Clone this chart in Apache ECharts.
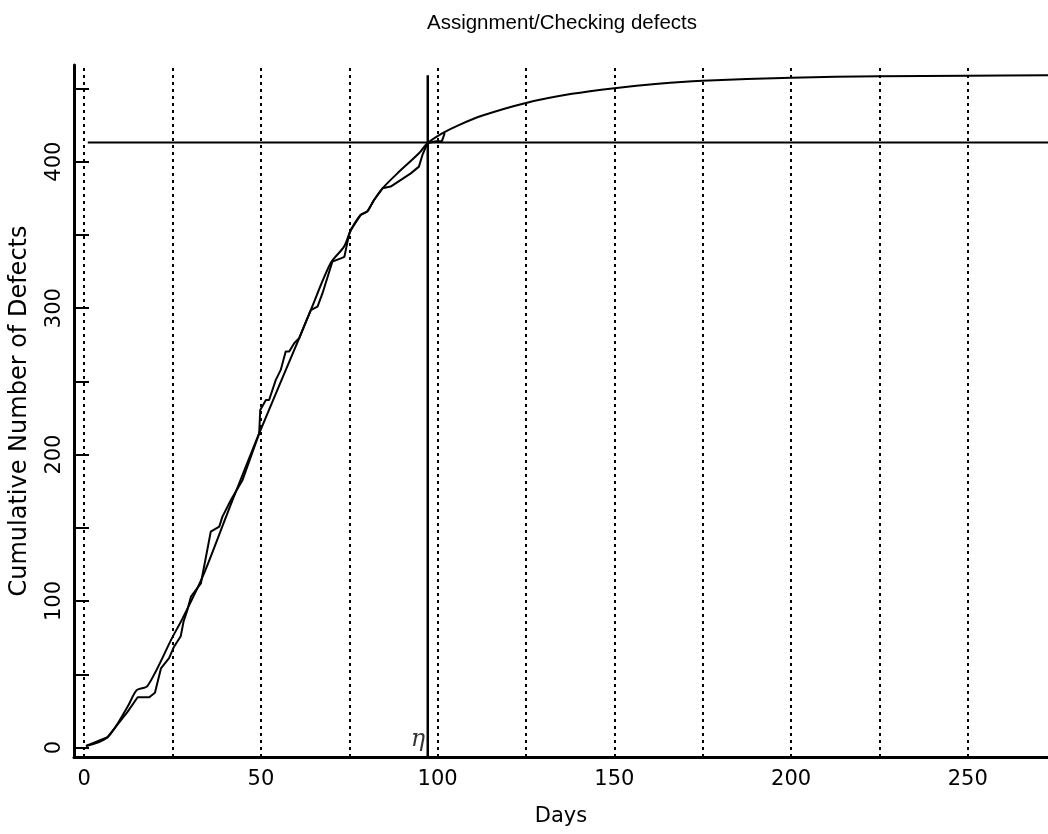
<!DOCTYPE html>
<html>
<head>
<meta charset="utf-8">
<script src="https://cdn.jsdelivr.net/npm/echarts@6/dist/echarts.min.js"></script>
<style>
  html, body { margin: 0; padding: 0; background: #ffffff; }
  #chart { width: 1048px; height: 834px; }
</style>
</head>
<body>
<div id="chart"></div>
<script>
// Text
const titleText = 'Assignment/Checking defects';
const xAxisName = 'Days';
const yAxisName = 'Cumulative Number of Defects';

// Ticks and reference grid
const xLabelValues = [0, 50, 100, 150, 200, 250];
const xGridValues = [0, 25, 50, 75, 100, 125, 150, 175, 200, 225, 250];
const yLabelValues = [0, 100, 200, 300, 400];
const yTickValues = [0, 50, 100, 150, 200, 250, 300, 350, 400, 450];

// Observed cumulative defects (day, count)
const observedDays = [0.5, 6.6, 12.3, 15.1, 18.4, 20.0, 21.7, 24.0, 25.4, 27.3, 28.1, 29.2, 30.2,
  33.0, 35.8, 38.2, 39.1, 41.5, 44.8, 49.5, 49.8, 51.4, 52.3, 54.2, 55.6, 57.0, 58.0, 59.4,
  60.8, 64.1, 66.0, 67.4, 70.2, 72.6, 73.6, 74.9, 75.4, 78.2, 80.1, 82.0, 84.4, 86.7, 92.4,
  94.7, 95.7, 97.1, 99.5, 101.2, 102.0];
const observedDefects = [1, 7, 24.5, 34.3, 34.3, 37.4, 54, 61, 68.8, 76, 86, 94, 103,
  112, 147.4, 150.8, 157.6, 169, 182.7, 214.5, 230.5, 237.3, 237.3, 251, 257.8, 270.3, 270.3, 276,
  279.4, 298.7, 301, 310, 331.7, 334, 335, 350, 353.4, 363.6, 366, 373.8, 381.8, 383, 392,
  396.6, 404.6, 412.6, 414, 414, 419.5];

// Fitted growth curve (day, count)
const fittedDays = [0.5, 6.6, 12.3, 14.9, 17.9, 25.0, 27.8, 33.5, 40.5, 49.5, 60.8, 64.1, 69.7,
  73.5, 75.4, 78.2, 80.1, 82.0, 84.4, 88.6, 94.7, 97.1, 101.4, 106, 112.7, 125, 138, 150, 162.4,
  175, 200, 225, 250, 272.7];
const fittedDefects = [1, 7, 28, 39.3, 42, 75.5, 88, 116.6, 159.9, 214.5, 279.4, 298.7, 330.6,
  342, 353, 363.6, 366, 373.8, 381.8, 392, 405.7, 412.6, 419.5, 425, 431.5, 440.1, 446.3, 450.2, 453.2,
  455.2, 457.3, 458.3, 458.7, 459];

// Reference levels
const etaDay = 97.2;          // day marked with eta
const level90 = 413.1;        // horizontal reference level
const totalDefects = 459;     // top of the eta marker line
const levelStartDay = 1;

// Axis extents
const xMin = -2.9, xMax = 272.7;
const yMin = -6.5, yMax = 466;

const zip = (a, b) => a.map((v, i) => [v, b[i]]);
const font = '"DejaVu Sans", Verdana, sans-serif';
const titleFont = '"Liberation Sans", Arial, Helvetica, sans-serif';
const ink = '#000000';

const chart = echarts.init(document.getElementById('chart'), null, { renderer: 'canvas' });

chart.setOption({
  backgroundColor: '#ffffff',
  animation: false,
  title: {
    text: titleText,
    left: 557,
    top: 8,
    textAlign: 'center',
    textStyle: { fontFamily: titleFont, fontSize: 20.5, fontWeight: 'normal', color: ink }
  },
  grid: { left: 73, right: 0, top: 65, bottom: 77, containLabel: false },
  xAxis: {
    type: 'value',
    min: xMin,
    max: xMax,
    name: xAxisName,
    nameLocation: 'middle',
    nameGap: 49,
    nameTextStyle: { fontFamily: font, fontSize: 21, color: ink },
    axisLine: { show: true, onZero: false, lineStyle: { color: ink, width: 3 } },
    axisTick: { show: false },
    splitLine: { show: false },
    axisLabel: {
      customValues: xLabelValues,
      margin: 12,
      fontFamily: font, fontSize: 21, color: ink
    }
  },
  yAxis: {
    type: 'value',
    min: yMin,
    max: yMax,
    name: yAxisName,
    nameLocation: 'middle',
    nameGap: 42,
    nameRotate: 90,
    nameTextStyle: { fontFamily: font, fontSize: 24, color: ink },
    axisLine: { show: true, onZero: false, lineStyle: { color: ink, width: 3 } },
    axisTick: {
      show: true,
      inside: true,
      length: 15,
      customValues: yTickValues,
      lineStyle: { color: ink, width: 2 }
    },
    splitLine: { show: false },
    axisLabel: {
      customValues: yLabelValues,
      rotate: 90,
      margin: 9,
      fontFamily: font, fontSize: 21, color: ink
    }
  },
  series: [
    {
      name: 'grid',
      type: 'line',
      data: [],
      silent: true,
      markLine: {
        silent: true,
        symbol: ['none', 'none'],
        label: { show: false },
        lineStyle: { color: ink, width: 2, type: [3, 4] },
        data: xGridValues.map(v => ({ xAxis: v }))
      }
    },
    {
      name: 'level',
      type: 'line',
      data: [[levelStartDay, level90], [xMax, level90]],
      showSymbol: false,
      lineStyle: { color: ink, width: 2 }
    },
    {
      name: 'eta',
      type: 'line',
      data: [[etaDay, yMin], [etaDay, totalDefects]],
      showSymbol: false,
      lineStyle: { color: ink, width: 2.5 }
    },
    {
      name: 'observed',
      type: 'line',
      data: zip(observedDays, observedDefects),
      showSymbol: false,
      lineStyle: { color: ink, width: 2 }
    },
    {
      name: 'fitted',
      type: 'line',
      data: zip(fittedDays, fittedDefects),
      showSymbol: false,
      smooth: 0.3,
      lineStyle: { color: ink, width: 2 }
    },
    {
      name: 'etaLabel',
      type: 'scatter',
      data: [[etaDay, yMin]],
      symbolSize: 0,
      silent: true,
      label: {
        show: true,
        formatter: '\u03b7',
        position: [-17, -29],
        fontFamily: '"DejaVu Serif", "Liberation Serif", serif',
        fontStyle: 'italic',
        fontSize: 24,
        color: ink
      }
    }
  ]
});
</script>
</body>
</html>
